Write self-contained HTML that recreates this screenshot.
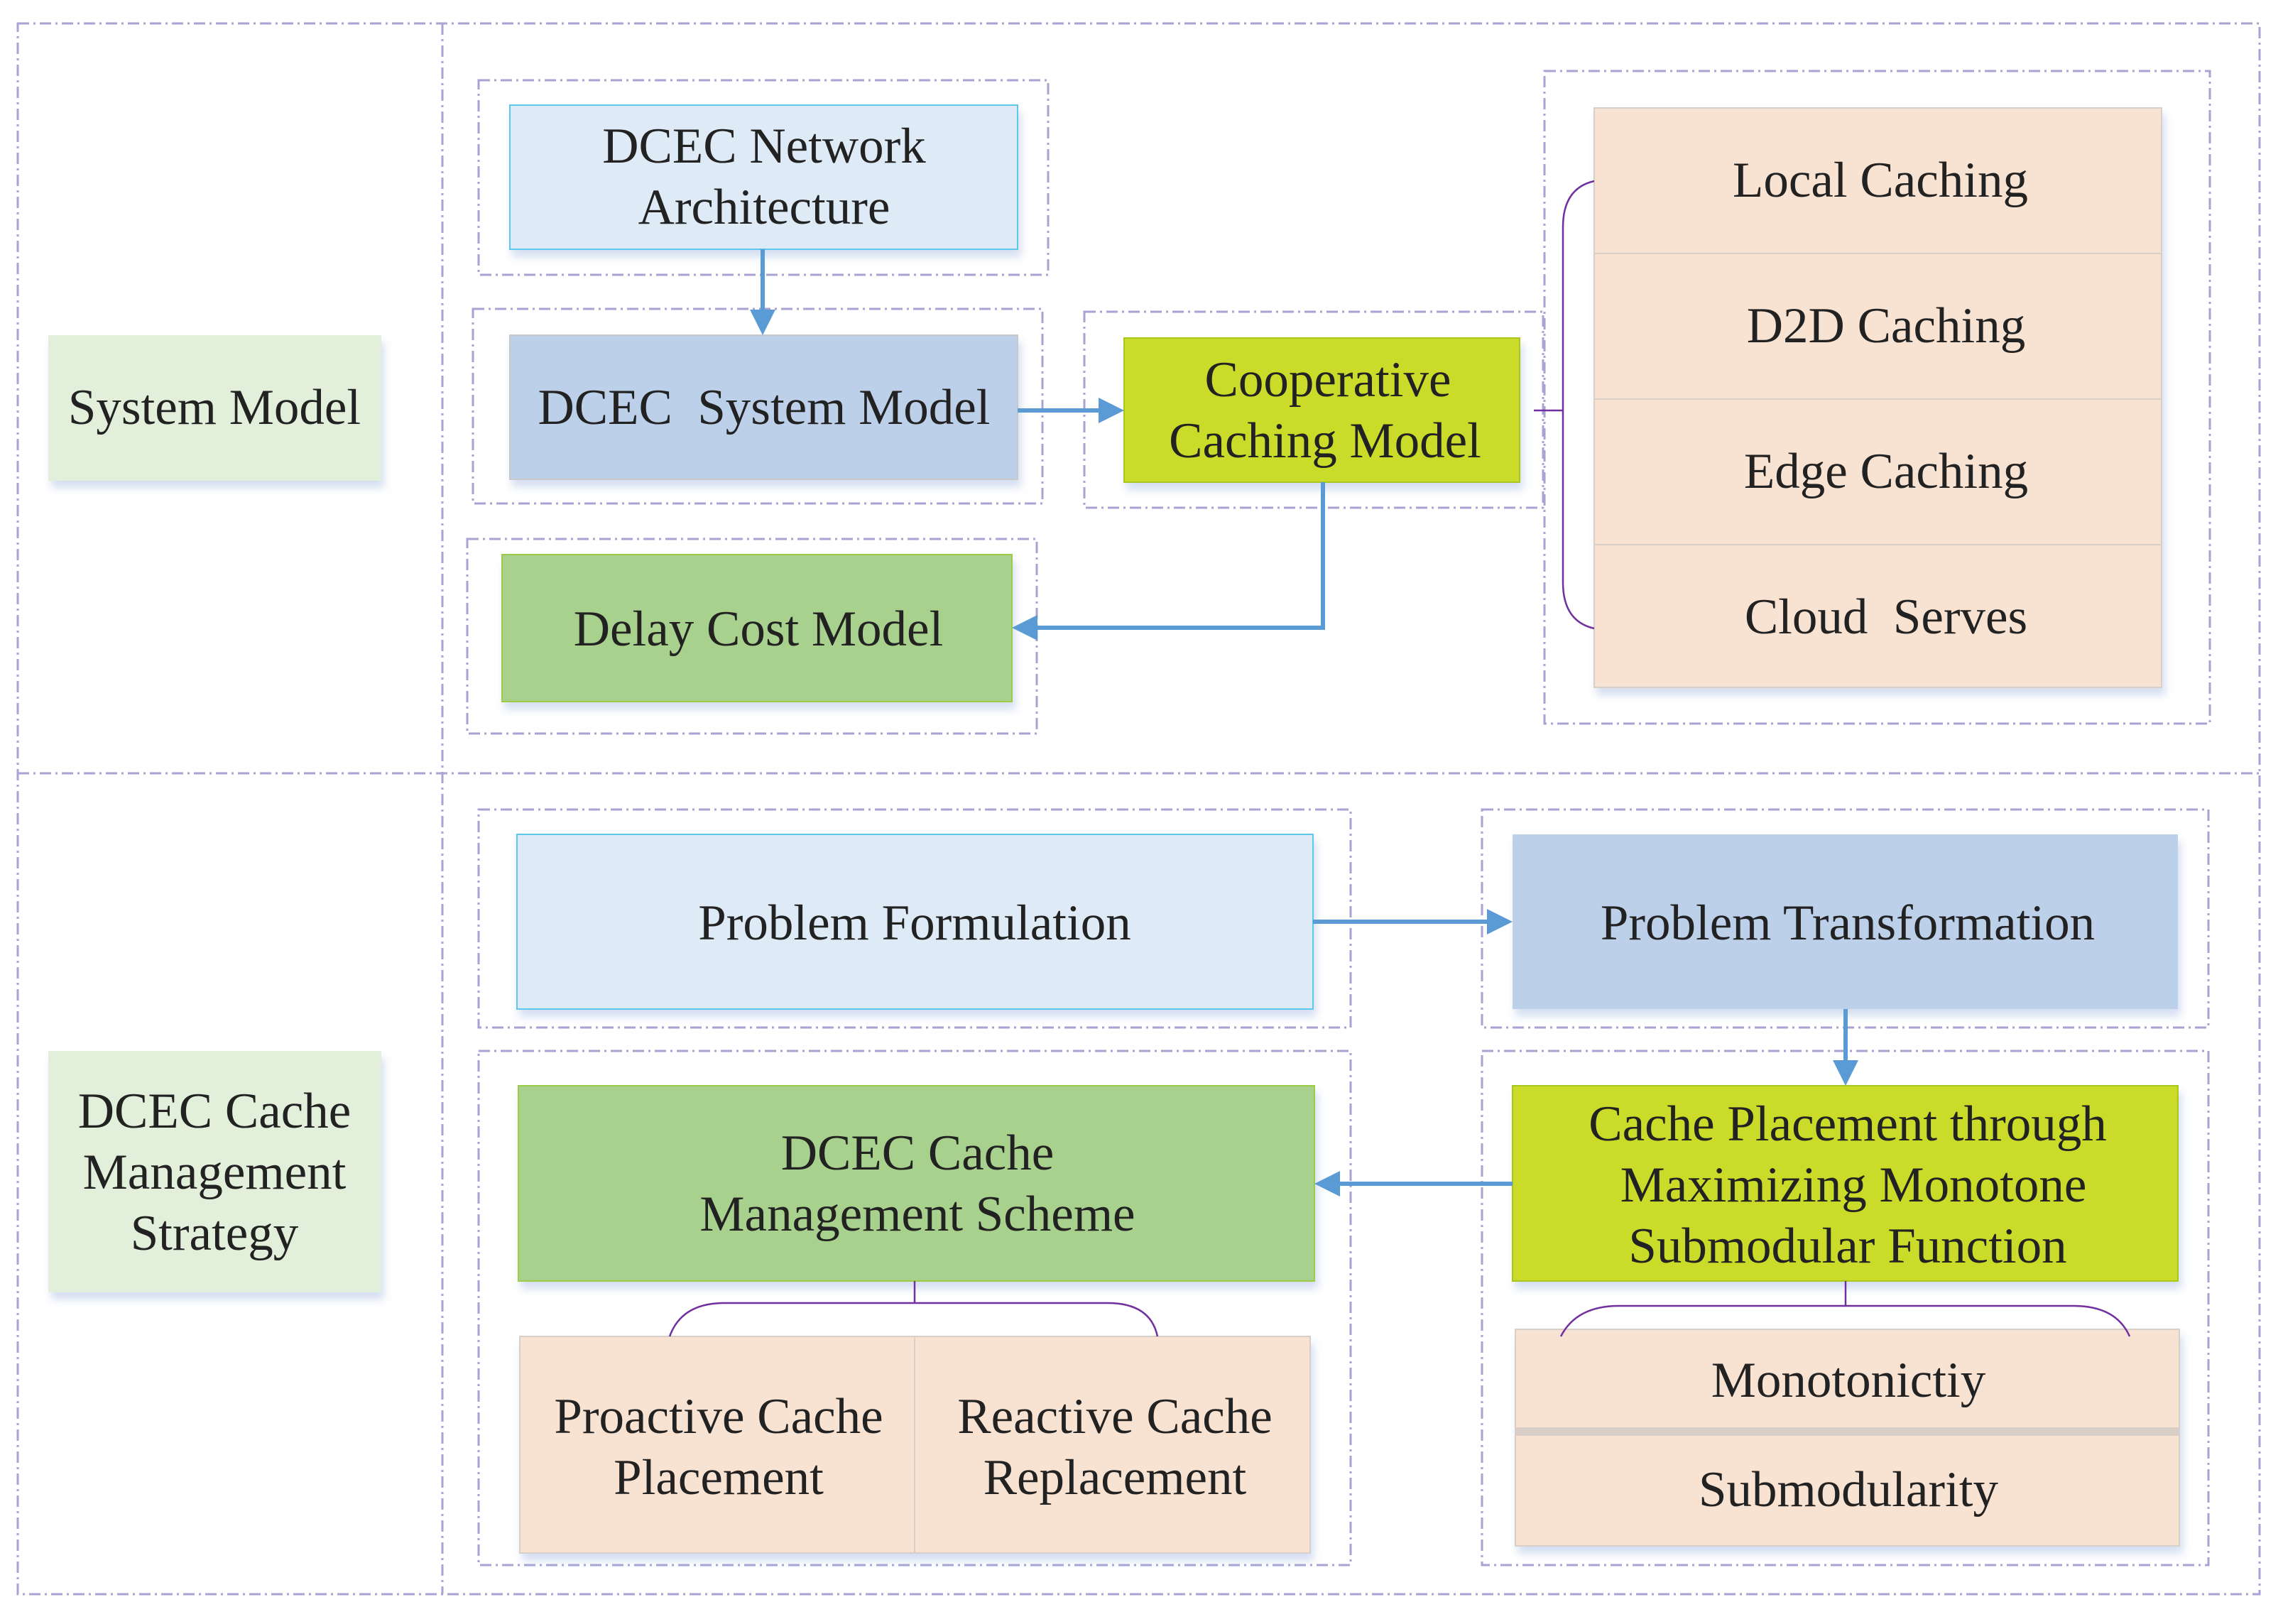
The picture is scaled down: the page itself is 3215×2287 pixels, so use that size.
<!DOCTYPE html>
<html><head><meta charset="utf-8"><style>
html,body{margin:0;padding:0;background:#fff}
svg{display:block}
text{font-family:"Liberation Serif",serif;font-size:71px;fill:#222;text-anchor:middle;dominant-baseline:central}
.d{fill:none;stroke:#a9a2d2;stroke-width:3;stroke-dasharray:16 6 3 6}
.a{stroke:#5b9bd5;stroke-width:6;fill:none}
.ah{fill:#5b9bd5}
.br{fill:none;stroke:#7030a0;stroke-width:2.5}
</style></head><body>
<svg width="3215" height="2287" viewBox="0 0 3215 2287" xmlns="http://www.w3.org/2000/svg">
<defs><filter id="s" x="-5%" y="-5%" width="110%" height="120%"><feDropShadow dx="4" dy="10" stdDeviation="6" flood-color="#9fb6e0" flood-opacity="0.45"/></filter></defs>
<rect class="d" x="25" y="33" width="3157" height="2212"/>
<line class="d" x1="623" y1="33" x2="623" y2="2245"/>
<line class="d" x1="25" y1="1089" x2="3182" y2="1089"/>
<rect class="d" x="674" y="113" width="802" height="274"/>
<rect class="d" x="666" y="435" width="802" height="274"/>
<rect class="d" x="658" y="759" width="802" height="274"/>
<rect class="d" x="1527" y="439" width="646" height="276"/>
<rect class="d" x="2175" y="100" width="937" height="919"/>
<rect class="d" x="674" y="1140" width="1228" height="307"/>
<rect class="d" x="2087" y="1140" width="1023" height="307"/>
<rect class="d" x="674" y="1480" width="1228" height="724"/>
<rect class="d" x="2087" y="1480" width="1023" height="724"/>
<g filter="url(#s)">
<rect x="68" y="472" width="469" height="205" fill="#e2efda"/>
<rect x="68" y="1480" width="469" height="340" fill="#e2efda"/>
<rect x="718" y="148" width="715" height="203" fill="#deebf7" stroke="#5bc8ee" stroke-width="2"/>
<rect x="718" y="472" width="715" height="203" fill="#bdd0e9" stroke="#c8c8c8" stroke-width="2"/>
<rect x="707" y="781" width="718" height="207" fill="#a9d18e" stroke="#9ccc44" stroke-width="2"/>
<rect x="1583" y="476" width="557" height="203" fill="#cadb2a" stroke="#a9c61e" stroke-width="2"/>
<rect x="2245" y="152" width="799" height="816" fill="#f8e3d3" stroke="#d8cfc8" stroke-width="2"/>
<rect x="728" y="1175" width="1121" height="246" fill="#deebf7" stroke="#5bc8ee" stroke-width="2"/>
<rect x="2130" y="1175" width="937" height="246" fill="#bdd0e9"/>
<rect x="730" y="1529" width="1121" height="275" fill="#a9d18e" stroke="#9ccc44" stroke-width="2"/>
<rect x="2130" y="1529" width="937" height="275" fill="#cadb2a" stroke="#a9c61e" stroke-width="2"/>
<rect x="732" y="1882" width="1113" height="305" fill="#f8e3d3" stroke="#d8cfc8" stroke-width="2"/>
<rect x="2134" y="1872" width="935" height="141" fill="#f8e3d3" stroke="#d8cfc8" stroke-width="2"/>
<rect x="2134" y="2013" width="935" height="164" fill="#f8e3d3" stroke="#d8cfc8" stroke-width="2"/>
</g>
<line x1="2245" y1="357" x2="3044" y2="357" stroke="#d8cfc8" stroke-width="2"/>
<line x1="2245" y1="562" x2="3044" y2="562" stroke="#d8cfc8" stroke-width="2"/>
<line x1="2245" y1="767" x2="3044" y2="767" stroke="#d8cfc8" stroke-width="2"/>
<line x1="1288" y1="1882" x2="1288" y2="2187" stroke="#d8cfc8" stroke-width="2"/>
<rect x="2134" y="2010" width="935" height="12" fill="#d9cec8"/>
<line class="a" x1="1074" y1="351" x2="1074" y2="440"/><polygon class="ah" points="1056,436 1092,436 1074,472"/>
<line class="a" x1="1433" y1="578" x2="1550" y2="578"/><polygon class="ah" points="1547,560 1547,596 1583,578"/>
<polyline class="a" points="1863,679 1863,884 1460,884"/><polygon class="ah" points="1461,866 1461,902 1425,884"/>
<line class="a" x1="1849" y1="1298" x2="2097" y2="1298"/><polygon class="ah" points="2094,1280 2094,1316 2130,1298"/>
<line class="a" x1="2599" y1="1421" x2="2599" y2="1497"/><polygon class="ah" points="2581,1493 2617,1493 2599,1529"/>
<line class="a" x1="2130" y1="1667" x2="1885" y2="1667"/><polygon class="ah" points="1887,1649 1887,1685 1851,1667"/>
<line class="br" x1="2160" y1="578" x2="2201" y2="578"/>
<path class="br" d="M2245,255 Q2201,265 2201,320 L2201,820 Q2201,875 2245,885"/>
<line class="br" x1="1288" y1="1804" x2="1288" y2="1835"/>
<path class="br" d="M943,1882 Q960,1835 1020,1835 L1560,1835 Q1620,1835 1630,1882"/>
<line class="br" x1="2599" y1="1804" x2="2599" y2="1839"/>
<path class="br" d="M2198,1882 Q2220,1839 2280,1839 L2920,1839 Q2980,1839 2999,1882"/>
<text x="302" y="574">System Model</text>
<text x="302" y="1651"><tspan x="302" dy="-86">DCEC Cache</tspan><tspan x="302" dy="86">Management</tspan><tspan x="302" dy="86">Strategy</tspan></text>
<text x="1076" y="249"><tspan x="1076" dy="-43">DCEC Network</tspan><tspan x="1076" dy="86">Architecture</tspan></text>
<text x="1076" y="574" xml:space="preserve">DCEC  System Model</text>
<text x="1068" y="886">Delay Cost Model</text>
<text x="1870" y="578"><tspan x="1870" dy="-43">Cooperative</tspan><tspan x="1866" dy="86">Caching Model</tspan></text>
<text x="2648" y="254">Local Caching</text>
<text x="2656" y="459">D2D Caching</text>
<text x="2656" y="664">Edge Caching</text>
<text x="2656" y="869" xml:space="preserve">Cloud  Serves</text>
<text x="1288" y="1300">Problem Formulation</text>
<text x="2602" y="1300">Problem Transformation</text>
<text x="1292" y="1667"><tspan x="1292" dy="-43">DCEC Cache</tspan><tspan x="1292" dy="86">Management Scheme</tspan></text>
<text x="2602" y="1669"><tspan x="2602" dy="-86">Cache Placement through</tspan><tspan x="2610" dy="86">Maximizing Monotone</tspan><tspan x="2602" dy="86">Submodular Function</tspan></text>
<text x="1012" y="2038"><tspan x="1012" dy="-43">Proactive Cache</tspan><tspan x="1012" dy="86">Placement</tspan></text>
<text x="1570" y="2038"><tspan x="1570" dy="-43">Reactive Cache</tspan><tspan x="1570" dy="86">Replacement</tspan></text>
<text x="2603" y="1944">Monotonictiy</text>
<text x="2603" y="2098">Submodularity</text>
</svg>
</body></html>
